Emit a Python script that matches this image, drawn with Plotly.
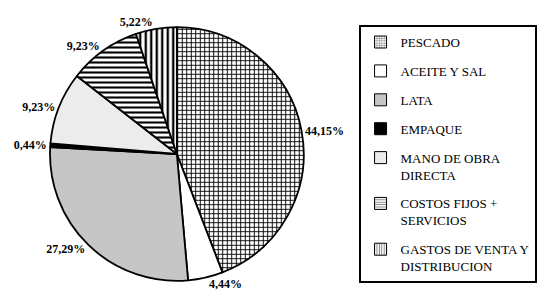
import plotly.graph_objects as go

categories = ["PESCADO", "ACEITE Y SAL", "LATA", "EMPAQUE",
              "MANO DE OBRA DIRECTA", "COSTOS FIJOS + SERVICIOS",
              "GASTOS DE VENTA Y DISTRIBUCION"]
legend_labels = ["PESCADO", "ACEITE Y SAL", "LATA", "EMPAQUE",
                 "MANO DE OBRA<br>DIRECTA", "COSTOS FIJOS +<br>SERVICIOS",
                 "GASTOS DE VENTA Y<br>DISTRIBUCION"]
values = [44.15, 4.44, 27.29, 0.44, 9.23, 9.23, 5.22]
pct_text = ["44,15%", "4,44%", "27,29%", "0,44%", "9,23%", "9,23%", "5,22%"]

bg_colors = ["white", "white", "#c6c6c6", "black", "#ececec", "white", "white"]
shapes = ["+", "", "", "", "", "-", "|"]
sizes = [4.5, 8, 8, 8, 8, 5, 5.5]
solid = [0.38, 0.3, 0.3, 0.3, 0.3, 0.42, 0.42]

SERIF = "Liberation Serif"

fig = go.Figure()
fig.add_trace(go.Pie(
    labels=categories,
    values=values,
    text=pct_text,
    textinfo="text",
    textposition="outside",
    textfont=dict(family=SERIF, size=12, color="black", weight="bold"),
    sort=False,
    direction="clockwise",
    rotation=0,
    showlegend=False,
    marker=dict(
        colors=bg_colors,
        line=dict(color="black", width=1.8),
        pattern=dict(shape=shapes, fgcolor="black", bgcolor=bg_colors,
                     size=sizes, solidity=solid, fillmode="replace"),
    ),
    domain=dict(x=[0.087, 0.568], y=[0.07, 0.91]),
    hoverinfo="label+percent",
))

# legend entries (one group each so spacing can be set)
for i, lab in enumerate(legend_labels):
    fig.add_trace(go.Bar(
        x=[None], y=[None], name=lab, legendgroup=categories[i],
        showlegend=True,
        marker=dict(color=bg_colors[i], line=dict(color="black", width=1),
                    pattern=dict(shape=shapes[i], fgcolor="black",
                                 bgcolor=bg_colors[i], size=3, solidity=0.4)),
    ))

fig.update_layout(
    width=540, height=302,
    margin=dict(l=0, r=0, t=0, b=0),
    paper_bgcolor="white", plot_bgcolor="white",
    xaxis=dict(visible=False, domain=[0.99, 1]),
    yaxis=dict(visible=False, domain=[0.99, 1]),
    legend=dict(
        x=0.664, y=0.917, xanchor="left", yanchor="top",
        bordercolor="black", borderwidth=2, bgcolor="white",
        font=dict(family=SERIF, size=13, color="black"),
        valign="top", tracegroupgap=9, itemwidth=30,
        traceorder="grouped",
    ),
)

fig.write_html("out.html")
